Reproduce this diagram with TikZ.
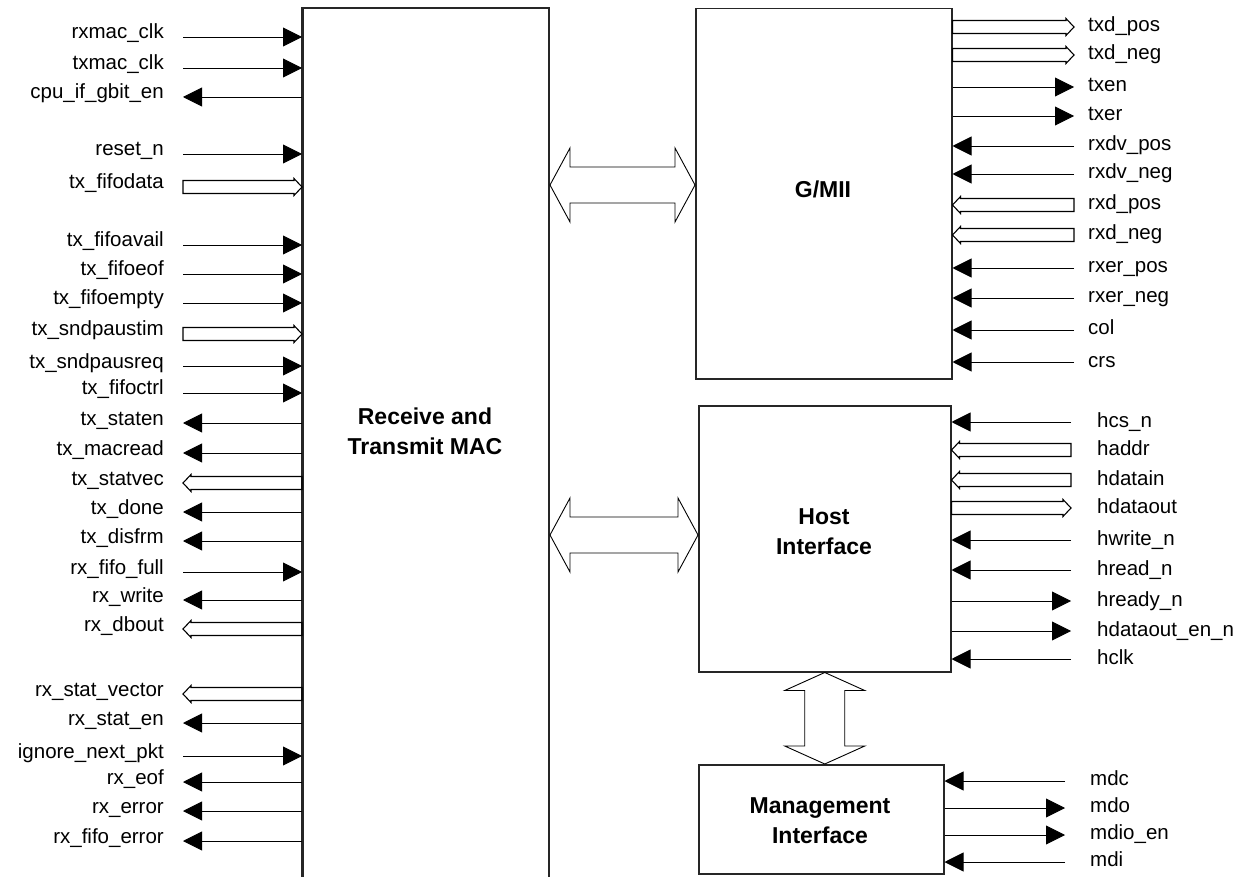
\documentclass[tikz,border=0pt]{standalone}
\usepackage{fontspec}
\setmainfont{Liberation Sans}
\usetikzlibrary{arrows.meta,calc}

\tikzset{
  wire/.style={line width=0.9pt},
  busline/.style={line width=1.1pt},
  sigtip/.style={wire,-{Triangle[length=19pt,width=19pt]}},
  boxline/.style={line width=1.5pt,draw=black!85},
  blk/.style={boxline,inner sep=0pt,anchor=north west},
  sig/.style={font=\fontsize{20.5}{24}\selectfont,inner sep=0pt},
  title/.style={font=\fontsize{23}{30}\selectfont\bfseries,align=center,inner sep=0pt},
}

\newcommand{\busarr}[2]{\draw[busline]($(#1)+(0,-6.5)$)--($(#2)!8pt!(#1)+(0,-6.5)$)--($(#2)!8pt!(#1)+(0,-8.5)$)--(#2)--($(#2)!8pt!(#1)+(0,8.5)$)--($(#2)!8pt!(#1)+(0,6.5)$)--($(#1)+(0,6.5)$)--cycle;}
\newcommand{\sigr}[2]{\draw[sigtip](#1)--(#2);}
\newcommand{\sigl}[2]{\draw[sigtip](#2)--(#1);}
\newcommand{\sigbr}[2]{\busarr{#1}{#2}}
\newcommand{\sigbl}[2]{\busarr{#2}{#1}}
\newcommand{\dblh}[2]{\draw[wire](#1)--++(20,-37)--++(0,19)--($(#2)+(-20,-18)$)--++(0,-19)--(#2)--++(-20,37)--++(0,-19)--($(#1)+(20,18)$)--++(0,19)--cycle;}
\newcommand{\dblv}[2]{\draw[wire](#1)--++(-40,18)--++(20,0)--($(#2)+(-20,-18)$)--++(-20,0)--(#2)--++(40,-18)--++(-20,0)--($(#1)+(20,18)$)--++(20,0)--cycle;}

\begin{document}
\begin{tikzpicture}[x=1pt,y=-1pt]
\useasboundingbox(0,0)rectangle(1248,877);

\node[blk,minimum width=246pt,minimum height=869pt](mac)at(302,8){};
\draw[boxline](mac.south west)--(mac.north west)--(mac.north east)--(mac.south east);
\node[title](mactxt)at(425,431){Receive and\\Transmit MAC};

\node[blk,draw,minimum width=256pt,minimum height=370pt](gmii)at(695,8){};
\node[title](gmiitxt)at(823,189){G/MII};

\node[blk,draw,minimum width=252pt,minimum height=266pt](host)at(698,405){};
\node[title](hosttxt)at(824,532){Host\\Interface};

\node[blk,draw,minimum width=245pt,minimum height=109pt](mgmt)at(698,764){};
\node[title](mgmttxt)at(820,821){Management\\Interface};

\coordinate(d1a)at(550,185);
\coordinate(d1b)at(gmii.west|-d1a);
\dblh{d1a}{d1b}
\coordinate(d2a)at(550,535);
\coordinate(d2b)at(host.west|-d2a);
\dblh{d2a}{d2b}
\coordinate(d3a)at(host.south);
\coordinate(d3b)at(d3a|-mgmt.north);
\dblv{d3a}{d3b}

\foreach \y/\name/\dir [count=\i] in {37/rxmac\_clk/r,68/txmac\_clk/r,97/cpu\_if\_gbit\_en/l,154/reset\_n/r,187/tx\_fifodata/br,245/tx\_fifoavail/r,274/tx\_fifoeof/r,303/tx\_fifoempty/r,334/tx\_sndpaustim/br,366/tx\_sndpausreq/r,393/tx\_fifoctrl/r,423/tx\_staten/l,453/tx\_macread/l,483/tx\_statvec/bl,512/tx\_done/l,541/tx\_disfrm/l,572/rx\_fifo\_full/r,600/rx\_write/l,629/rx\_dbout/bl,694/rx\_stat\_vector/bl,723/rx\_stat\_en/l,756/ignore\_next\_pkt/r,782/rx\_eof/l,811/rx\_error/l,841/rx\_fifo\_error/l}{
  \coordinate(la\i)at(183,\y);
  \coordinate(lb\i)at(mac.west|-la\i);
  \csname sig\dir\endcsname{la\i}{lb\i}
  \node[sig,anchor=base east](ln\i)at(164,\y+2){\name};
}

\foreach \y/\name/\dir [count=\i] in {27/txd\_pos/br,55/txd\_neg/br,87/txen/r,116/txer/r,146/rxdv\_pos/l,174/rxdv\_neg/l,205/rxd\_pos/bl,235/rxd\_neg/bl,268/rxer\_pos/l,298/rxer\_neg/l,330/col/l,362/crs/l}{
  \coordinate(gb\i)at(1074,\y);
  \coordinate(ga\i)at(gmii.east|-gb\i);
  \csname sig\dir\endcsname{ga\i}{gb\i}
  \node[sig,anchor=base west](gn\i)at(1088,\y+5){\name};
}

\foreach \y/\name/\dir [count=\i] in {422/hcs\_n/l,450/haddr/bl,480/hdatain/bl,508/hdataout/br,540/hwrite\_n/l,570/hread\_n/l,601/hready\_n/r,631/hdataout\_en\_n/r,659/hclk/l}{
  \coordinate(hb\i)at(1071,\y);
  \coordinate(ha\i)at(host.east|-hb\i);
  \csname sig\dir\endcsname{ha\i}{hb\i}
  \node[sig,anchor=base west](hn\i)at(1097,\y+5){\name};
}

\foreach \y/\name/\dir [count=\i] in {781/mdc/l,808/mdo/r,835/mdio\_en/r,862/mdi/l}{
  \coordinate(mb\i)at(1065,\y);
  \coordinate(ma\i)at(mgmt.east|-mb\i);
  \csname sig\dir\endcsname{ma\i}{mb\i}
  \node[sig,anchor=base west](mn\i)at(1090,\y+4){\name};
}

\end{tikzpicture}
\end{document}
